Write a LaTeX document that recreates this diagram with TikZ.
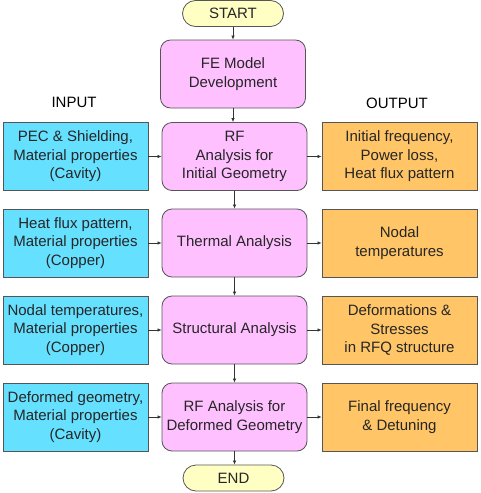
\documentclass[tikz,border=0pt]{standalone}
\usepackage{fontspec}
\setmainfont{Liberation Sans}
\usetikzlibrary{arrows.meta}
\definecolor{pinkf}{HTML}{FFC0FF}
\definecolor{bluef}{HTML}{66E0FF}
\definecolor{orangef}{HTML}{FFC566}
\definecolor{yellowf}{HTML}{FFFFC4}
\definecolor{edge}{HTML}{555555}
\begin{document}
\begin{tikzpicture}[x=1pt,y=-1pt,
  font=\fontsize{15}{18.5}\selectfont,
  base/.style={draw=edge, line width=0.8pt, align=center, inner sep=0pt, text=black!85},
  procbox/.style={base, fill=pinkf, rounded corners=10pt, minimum width=145pt, minimum height=68pt},
  inbox/.style={base, fill=bluef, minimum width=145pt, minimum height=68pt},
  outbox/.style={base, fill=orangef, minimum width=155pt, minimum height=68pt},
  termbox/.style={base, fill=yellowf, rounded corners=13pt, minimum width=101pt, minimum height=26pt},
  conn/.style={draw=black!80, line width=0.7pt, -{Latex[length=4pt,width=3.5pt]}}
]
\useasboundingbox (0,0) rectangle (481,493);
\node[termbox] (start) at (233,13.5) {START};
\node[procbox] (fe) at (233,74) {FE Model\\Development};
\node (inlab) at (74,102) {INPUT};
\node (outlab) at (397,103) {OUTPUT};

\node[procbox] (rf1) at (234.5,156.5) {RF\\Analysis for\\Initial Geometry};
\node[inbox] (in1) at (75.5,156.5) {PEC \& Shielding,\\Material properties\\(Cavity)};
\node[outbox] (out1) at (399.5,156.5) {Initial frequency,\\Power loss,\\Heat flux pattern};

\node[procbox] (th) at (234.5,243) {Thermal Analysis};
\node[inbox] (in2) at (75.5,243) {Heat flux pattern,\\Material properties\\(Copper)};
\node[outbox] (out2) at (399.5,243) {Nodal\\temperatures};

\node[procbox] (st) at (234.5,330) {Structural Analysis};
\node[inbox] (in3) at (75.5,330) {Nodal temperatures,\\Material properties\\(Copper)};
\node[outbox] (out3) at (399.5,330) {Deformations \&\\Stresses\\in RFQ structure};

\node[procbox] (rf2) at (234.5,417) {RF Analysis for\\Deformed Geometry};
\node[inbox] (in4) at (75.5,417) {Deformed geometry,\\Material properties\\(Cavity)};
\node[outbox] (out4) at (399.5,417) {Final frequency\\\& Detuning};

\node[termbox] (end) at (233.5,478) {END};

\draw[conn] (start) -- (fe);
\draw[conn] (fe) -- (fe|-rf1.north);
\draw[conn] (rf1) -- (th);
\draw[conn] (th) -- (st);
\draw[conn] (st) -- (rf2);
\draw[conn] (rf2) -- (rf2|-end.north);
\foreach \i/\p in {1/rf1,2/th,3/st,4/rf2}{
  \draw[conn] (in\i) -- (\p);
  \draw[conn] (\p) -- (out\i);
}
\end{tikzpicture}
\end{document}
